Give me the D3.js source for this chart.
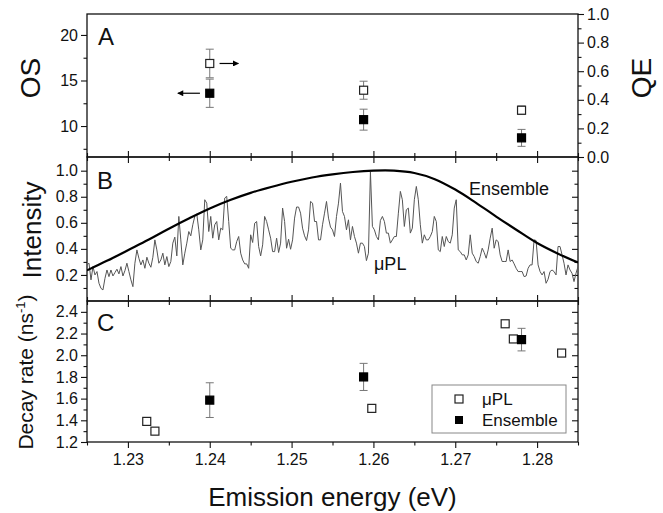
<!DOCTYPE html>
<html>
<head>
<meta charset="utf-8">
<script src="https://d3js.org/d3.v7.min.js"></script>
<style>
  body { margin: 0; background: #fff; }
  svg text { font-family: "Liberation Sans", Arial, sans-serif; fill: #111; }
  .tick text { font-size: 16px; }
  .tick line { stroke: #111; stroke-width: 1.1; }
</style>
</head>
<body>
<script>
// ---- data ----
// panel A: oscillator strength (left) and quantum efficiency (right)
var aEnergy = [1.240, 1.2588, 1.2781];
var osVal = [13.6, 10.7, 8.7];
var osErr = [1.55, 1.15, 0.93];
var qeVal = [0.654, 0.467, 0.327];
var qeErr = [0.10, 0.063, 0.03];

// panel B: ensemble PL spectrum
var ensE = [1.2250, 1.2275, 1.2300, 1.2325, 1.2350, 1.2375, 1.2400, 1.2425, 1.2450, 1.2475, 1.2500,
            1.2525, 1.2550, 1.2575, 1.2600, 1.2625, 1.2650, 1.2675, 1.2700, 1.2725, 1.2750, 1.2775,
            1.2800, 1.2825, 1.2850];
var ensI = [0.235, 0.31, 0.39, 0.47, 0.555, 0.635, 0.71, 0.775, 0.83, 0.875, 0.915,
            0.948, 0.972, 0.99, 1.0, 1.0, 0.982, 0.935, 0.855, 0.755, 0.648, 0.545,
            0.445, 0.365, 0.295];

// panel B: micro-PL spectrum, 247 samples from 1.225 to 1.285 eV
var muplStart = 1.225, muplEnd = 1.285;
var muplI = [
  0.277,0.290,0.162,0.264,0.200,0.226,0.136,0.097,0.085,0.174,0.238,0.187,0.238,0.192,0.218,0.244,
  0.208,0.264,0.192,0.233,0.290,0.226,0.162,0.110,0.290,0.392,0.328,0.277,0.315,0.251,0.336,0.290,
  0.259,0.336,0.469,0.392,0.290,0.315,0.367,0.277,0.341,0.264,0.303,0.444,0.490,0.346,0.649,0.469,
  0.277,0.367,0.444,0.533,0.500,0.585,0.649,0.669,0.546,0.392,0.469,0.777,0.751,0.533,
  0.649,0.482,0.585,0.610,0.469,0.559,0.546,0.790,0.803,0.610,0.405,0.392,0.392,0.456,0.495,0.367,
  0.315,0.285,0.285,0.251,0.508,0.449,0.597,0.610,0.418,0.346,0.431,0.649,0.610,0.546,0.482,0.379,
  0.379,0.482,0.372,0.444,0.713,0.610,0.405,0.474,0.397,0.469,0.636,0.721,0.721,0.674,0.559,0.500,
  0.464,0.546,0.764,0.751,0.610,0.610,0.469,0.469,0.585,0.674,0.764,0.636,0.567,0.546,
  0.495,0.649,0.751,0.905,0.687,0.649,0.546,0.623,0.469,0.572,0.495,0.444,0.367,0.444,0.444,0.418,
  0.310,0.367,0.990,0.572,0.546,0.495,0.469,0.618,0.649,0.610,0.521,0.521,0.444,0.469,0.495,0.495,
  0.674,0.841,0.777,0.572,0.700,0.713,0.521,0.559,0.777,0.879,0.777,0.585,0.444,0.508,0.469,0.469,
  0.495,0.533,0.649,0.610,0.392,0.379,0.495,0.418,0.495,0.456,0.444,0.508,0.713,
  0.777,0.392,0.379,0.354,0.354,0.315,0.354,0.508,0.367,0.341,0.303,0.290,0.341,0.405,0.372,0.328,
  0.392,0.482,0.559,0.405,0.469,0.456,0.354,0.303,0.303,0.303,0.392,0.303,0.315,0.285,0.251,0.226,
  0.226,0.226,0.187,0.192,0.251,0.277,0.277,0.469,0.464,0.277,0.226,0.200,0.226,0.136,0.167,0.226,
  0.238,0.226,0.200,0.418,0.418,0.354,0.290,0.200,0.277,0.238,0.213,0.149,0.213,0.264
];

// panel C: decay rates
var cMuplE = [1.2323, 1.2333, 1.2598, 1.2761, 1.2771, 1.2830];
var cMuplR = [1.39, 1.30, 1.51, 2.29, 2.15, 2.02];
var cEnsE = [1.240, 1.2588, 1.2781];
var cEnsR = [1.586, 1.80, 2.144];
var cEnsErr = [0.16, 0.125, 0.104];

var xMajor = [1.23, 1.24, 1.25, 1.26, 1.27, 1.28];
var xMinor = [1.225, 1.235, 1.245, 1.255, 1.265, 1.275, 1.285];

// ---- layout ----
var W = 663, H = 513;
var left = 87, right = 578;
var pA = [14, 157], pB = [157, 301], pC = [301, 442];

var svg = d3.select("body").append("svg").attr("width", W).attr("height", H);

var x = d3.scaleLinear().domain([1.225, 1.285]).range([left, right]);
var yOS = d3.scaleLinear().domain([6.6, 22.3]).range([pA[1], pA[0]]);
var yQE = d3.scaleLinear().domain([0, 1]).range([pA[1], pA[0]]);
var yB = d3.scaleLinear().domain([0, 1.105]).range([pB[1], pB[0]]);
var yC = d3.scaleLinear().domain([1.2, 2.5]).range([pC[1], pC[0]]);

function axis(gen, scale, vals, size, fmt, tr) {
  var a = gen(scale).tickValues(vals).tickSize(size).tickPadding(3);
  a.tickFormat(fmt ? fmt : function() { return ""; });
  var g = svg.append("g").attr("transform", tr).call(a);
  g.select(".domain").remove();
  return g;
}

// left axes (outward ticks)
axis(d3.axisLeft, yOS, [10, 15, 20], 6, d3.format("d"), "translate(" + left + ",0)");
axis(d3.axisLeft, yOS, [7.5, 12.5, 17.5], 3.5, null, "translate(" + left + ",0)");
axis(d3.axisLeft, yB, [0.2, 0.4, 0.6, 0.8, 1.0], 6, d3.format(".1f"), "translate(" + left + ",0)");
axis(d3.axisLeft, yB, [0.1, 0.3, 0.5, 0.7, 0.9], 3.5, null, "translate(" + left + ",0)");
axis(d3.axisLeft, yC, [1.2, 1.4, 1.6, 1.8, 2.0, 2.2, 2.4], 6, d3.format(".1f"), "translate(" + left + ",0)");
axis(d3.axisLeft, yC, [1.3, 1.5, 1.7, 1.9, 2.1, 2.3], 3.5, null, "translate(" + left + ",0)");

// right axes
axis(d3.axisRight, yQE, [0, 0.2, 0.4, 0.6, 0.8, 1.0], 6, d3.format(".1f"), "translate(" + right + ",0)");
axis(d3.axisRight, yQE, [0.1, 0.3, 0.5, 0.7, 0.9], 3.5, null, "translate(" + right + ",0)");
axis(d3.axisRight, yB, [0.2, 0.4, 0.6, 0.8, 1.0], -6, null, "translate(" + right + ",0)");
axis(d3.axisRight, yB, [0.1, 0.3, 0.5, 0.7, 0.9], -3.5, null, "translate(" + right + ",0)");
axis(d3.axisRight, yC, [1.4, 1.6, 1.8, 2.0, 2.2, 2.4], -6, null, "translate(" + right + ",0)");
axis(d3.axisRight, yC, [1.3, 1.5, 1.7, 1.9, 2.1, 2.3], -3.5, null, "translate(" + right + ",0)");

// x ticks crossing the panel boundaries
[pA[1], pB[1]].forEach(function(yy) {
  axis(d3.axisBottom, x, xMajor, 6, null, "translate(0," + yy + ")");
  axis(d3.axisBottom, x, xMajor, -6, null, "translate(0," + yy + ")");
  axis(d3.axisBottom, x, xMinor, 4, null, "translate(0," + yy + ")");
  axis(d3.axisBottom, x, xMinor, -4, null, "translate(0," + yy + ")");
});
// bottom axis with labels
axis(d3.axisBottom, x, xMajor, 6, d3.format(".2f"), "translate(0," + pC[1] + ")")
  .selectAll("text").attr("dy", "0.9em");
axis(d3.axisBottom, x, xMinor, 3.5, null, "translate(0," + pC[1] + ")");

// panel frames
[pA, pB, pC].forEach(function(p) {
  svg.append("rect").attr("x", left).attr("y", p[0])
    .attr("width", right - left).attr("height", p[1] - p[0])
    .attr("fill", "none").attr("stroke", "#111").attr("stroke-width", 1.3);
});

// ---- panel A ----
function errBars(xs, ys, es, ys2) {
  var g = svg.append("g").attr("stroke", "#777").attr("stroke-width", 1);
  xs.forEach(function(e, i) {
    var cx = x(e), y1 = ys2(ys[i] + es[i]), y2 = ys2(ys[i] - es[i]);
    g.append("line").attr("x1", cx).attr("x2", cx).attr("y1", y1).attr("y2", y2);
    g.append("line").attr("x1", cx - 4).attr("x2", cx + 4).attr("y1", y1).attr("y2", y1);
    g.append("line").attr("x1", cx - 4).attr("x2", cx + 4).attr("y1", y2).attr("y2", y2);
  });
}
function squares(xs, ys, sc, filled) {
  svg.append("g").selectAll("rect").data(xs).join("rect")
    .attr("x", function(d) { return x(d) - 4; })
    .attr("y", function(d, i) { return sc(ys[i]) - 4; })
    .attr("width", 8).attr("height", 8)
    .attr("fill", filled ? "#000" : "#fff")
    .attr("stroke", filled ? "#000" : "#222").attr("stroke-width", 1.2);
}
errBars(aEnergy, qeVal, qeErr, yQE);
errBars(aEnergy, osVal, osErr, yOS);
squares(aEnergy, qeVal, yQE, false);
squares(aEnergy, osVal, yOS, true);

// arrows telling which axis each series belongs to
var defs = svg.append("defs");
defs.append("marker").attr("id", "ah").attr("viewBox", "0 0 10 10")
  .attr("refX", 9).attr("refY", 5).attr("markerWidth", 7).attr("markerHeight", 6)
  .attr("orient", "auto").attr("markerUnits", "userSpaceOnUse")
  .append("path").attr("d", "M0,0L10,5L0,10Z").attr("fill", "#000");
svg.append("line").attr("x1", x(1.2412)).attr("x2", x(1.2435))
  .attr("y1", yQE(qeVal[0])).attr("y2", yQE(qeVal[0]))
  .attr("stroke", "#000").attr("stroke-width", 1.2).attr("marker-end", "url(#ah)");
svg.append("line").attr("x1", x(1.2388)).attr("x2", x(1.2361))
  .attr("y1", yOS(osVal[0])).attr("y2", yOS(osVal[0]))
  .attr("stroke", "#000").attr("stroke-width", 1.2).attr("marker-end", "url(#ah)");

// ---- panel B ----
svg.append("clipPath").attr("id", "clipB").append("rect")
  .attr("x", left).attr("y", pB[0]).attr("width", right - left).attr("height", pB[1] - pB[0]);
var n = muplI.length;
var muplE = muplI.map(function(v, i) { return muplStart + i * (muplEnd - muplStart) / (n - 1); });
svg.append("path").attr("clip-path", "url(#clipB)")
  .datum(muplI)
  .attr("d", d3.line().x(function(d, i) { return x(muplE[i]); }).y(function(d) { return yB(d); }))
  .attr("fill", "none").attr("stroke", "#555").attr("stroke-width", 1);
svg.append("path").attr("clip-path", "url(#clipB)")
  .datum(ensI)
  .attr("d", d3.line().curve(d3.curveCatmullRom).x(function(d, i) { return x(ensE[i]); }).y(function(d) { return yB(d); }))
  .attr("fill", "none").attr("stroke", "#000").attr("stroke-width", 2.2);

svg.append("text").attr("x", 469).attr("y", 195).attr("font-size", 18).text("Ensemble");
svg.append("text").attr("x", 374).attr("y", 270).attr("font-size", 18).text("\u03bcPL");

// ---- panel C ----
errBars(cEnsE, cEnsR, cEnsErr, yC);
squares(cMuplE, cMuplR, yC, false);
squares(cEnsE, cEnsR, yC, true);

// legend
var lg = svg.append("g").attr("transform", "translate(432,385)");
lg.append("rect").attr("width", 134).attr("height", 48)
  .attr("fill", "#fff").attr("stroke", "#888").attr("stroke-width", 1);
lg.append("rect").attr("x", 23).attr("y", 10).attr("width", 8).attr("height", 8)
  .attr("fill", "#fff").attr("stroke", "#222").attr("stroke-width", 1.2);
lg.append("rect").attr("x", 23).attr("y", 31).attr("width", 8).attr("height", 8)
  .attr("fill", "#000");
lg.append("text").attr("x", 50).attr("y", 20).attr("font-size", 17).text("\u03bcPL");
lg.append("text").attr("x", 50).attr("y", 41).attr("font-size", 17).text("Ensemble");

// panel letters
svg.append("text").attr("x", 98).attr("y", 45).attr("font-size", 24).text("A");
svg.append("text").attr("x", 97).attr("y", 189).attr("font-size", 24).text("B");
svg.append("text").attr("x", 97).attr("y", 331).attr("font-size", 24).text("C");

// axis titles
function vTitle(cx, cy, size, txt) {
  return svg.append("text").attr("transform", "translate(" + cx + "," + cy + ") rotate(-90)")
    .attr("text-anchor", "middle").attr("font-size", size).text(txt);
}
vTitle(40, 78, 28, "OS");
vTitle(41, 230, 26, "Intensity");
var dt = vTitle(33, 372, 21, "Decay rate (ns");
dt.append("tspan").attr("dy", -8).attr("font-size", 13).text("-1");
dt.append("tspan").attr("dy", 8).text(")");
svg.append("text").attr("transform", "translate(651,78) rotate(-90)")
  .attr("text-anchor", "middle").attr("font-size", 28).text("QE");
svg.append("text").attr("x", (left + right) / 2).attr("y", 506)
  .attr("text-anchor", "middle").attr("font-size", 26).text("Emission energy (eV)");
</script>
</body>
</html>
